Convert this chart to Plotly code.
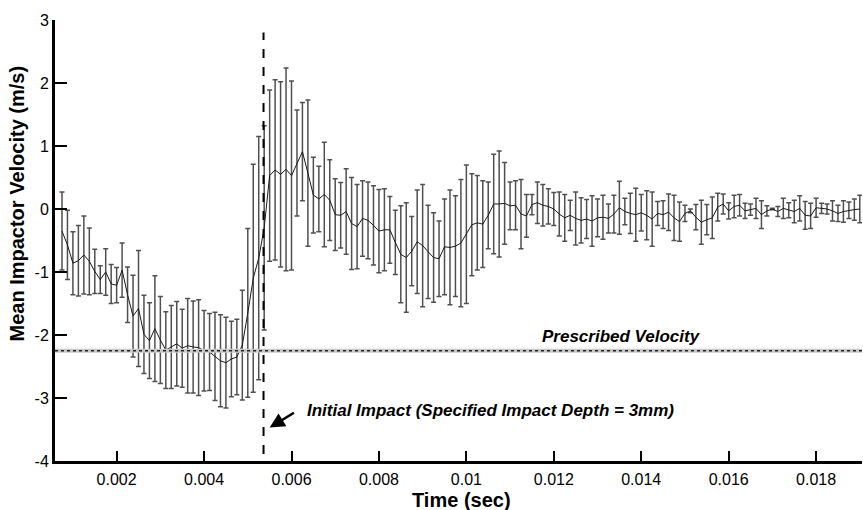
import plotly.graph_objects as go

# ---- data ----
T0 = 0.00075
DT = 0.000125
mean_velocity = [
    -0.35, -0.57, -0.86, -0.82, -0.73, -0.83, -0.99, -1.12, -1.00, -1.19,
    -1.21, -0.97, -1.36, -1.70, -1.58, -1.99, -2.09, -1.90, -2.08, -2.24,
    -2.19, -2.14, -2.21, -2.17, -2.19, -2.20, -2.25, -2.27, -2.34, -2.41,
    -2.44, -2.38, -2.35, -2.16, -1.65, -1.10, -0.78, -0.30, 0.53, 0.62,
    0.55, 0.63, 0.53, 0.73, 0.91, 0.57, 0.22, 0.16, 0.23, 0.14,
    -0.09, -0.10, -0.04, -0.23, -0.28, -0.15, -0.18, -0.26, -0.35, -0.33,
    -0.33, -0.53, -0.72, -0.77, -0.67, -0.52, -0.58, -0.68, -0.77, -0.79,
    -0.60, -0.61, -0.59, -0.54, -0.40, -0.25, -0.22, -0.24, -0.10, 0.08,
    0.08, 0.09, 0.05, 0.06, -0.08, -0.11, 0.07, 0.10, 0.06, 0.04,
    0.00, -0.08, -0.14, -0.10, -0.15, -0.18, -0.16, -0.19, -0.14, -0.13,
    -0.15, -0.08, 0.02, -0.04, -0.07, -0.09, -0.06, -0.10, -0.16, -0.07,
    -0.09, -0.05, -0.14, -0.20, -0.07, -0.03, -0.13, -0.21, -0.17, -0.14,
    0.03, 0.08, -0.03, 0.04, 0.06, -0.03, -0.01, 0.01, -0.09, -0.03,
    0.00, -0.04, 0.01, -0.02, -0.04, 0.01, -0.10, -0.11, 0.02, 0.01,
    0.00, -0.03, -0.07, -0.04, -0.02, -0.01, 0.00,
]
std_velocity = [
    0.62, 0.55, 0.50, 0.56, 0.62, 0.53, 0.35, 0.22, 0.37, 0.31,
    0.28, 0.43, 0.44, 0.65, 0.92, 0.62, 0.60, 0.84, 0.69, 0.61,
    0.66, 0.67, 0.62, 0.75, 0.73, 0.76, 0.64, 0.61, 0.70, 0.73,
    0.72, 0.60, 0.60, 0.87, 1.34, 1.81, 1.93, 1.62, 1.36, 1.43,
    1.47, 1.61, 1.50, 0.84, 0.78, 1.16, 0.60, 0.52, 0.83, 0.64,
    0.57, 0.52, 0.68, 0.73, 0.67, 0.60, 0.61, 0.63, 0.66, 0.65,
    0.53, 0.51, 0.77, 0.87, 0.55, 0.82, 0.97, 0.74, 0.71, 0.60,
    0.76, 0.91, 0.80, 1.01, 1.10, 0.81, 0.75, 0.69, 0.53, 0.79,
    0.84, 0.65, 0.38, 0.39, 0.55, 0.34, 0.16, 0.33, 0.33, 0.28,
    0.26, 0.35, 0.37, 0.24, 0.42, 0.36, 0.31, 0.40, 0.30, 0.35,
    0.23, 0.30, 0.42, 0.21, 0.32, 0.42, 0.29, 0.39, 0.43, 0.19,
    0.22, 0.29, 0.36, 0.31, 0.13, 0.03, 0.20, 0.35, 0.24, 0.33,
    0.22, 0.16, 0.13, 0.18, 0.17, 0.12, 0.09, 0.16, 0.22, 0.08,
    0.01, 0.08, 0.16, 0.12, 0.18, 0.20, 0.22, 0.20, 0.15, 0.08,
    0.08, 0.16, 0.13, 0.17, 0.13, 0.17, 0.22,
]
time_sec = [round(T0 + i * DT, 6) for i in range(len(mean_velocity))]

x_tick_vals = [0.002, 0.004, 0.006, 0.008, 0.01, 0.012, 0.014, 0.016, 0.018]
x_tick_text = ["0.002", "0.004", "0.006", "0.008", "0.01", "0.012", "0.014", "0.016", "0.018"]
y_tick_vals = [-4, -3, -2, -1, 0, 1, 2, 3]
y_tick_text = ["-4", "-3", "-2", "-1", "0", "1", "2", "3"]

prescribed_velocity = -2.25
impact_time = 0.00536

FONT = "Arial, Liberation Sans, sans-serif"

fig = go.Figure()
fig.add_trace(go.Scatter(
    x=time_sec, y=mean_velocity, mode="lines",
    line=dict(color="#1a1a1a", width=1),
    error_y=dict(type="data", array=std_velocity, visible=True,
                 color="#505050", thickness=1.5, width=2.5),
    showlegend=False, hoverinfo="skip",
))

# prescribed velocity line (grey band + dotted line)
fig.add_shape(type="line", xref="paper", yref="y", x0=0, x1=1,
              y0=prescribed_velocity, y1=prescribed_velocity,
              line=dict(color="#c8c8c8", width=4), layer="above")
fig.add_shape(type="line", xref="paper", yref="y", x0=0, x1=1,
              y0=prescribed_velocity, y1=prescribed_velocity,
              line=dict(color="#222222", width=1.5, dash="dot"), layer="above")

# initial impact dashed vertical line
fig.add_shape(type="line", xref="x", yref="y", x0=impact_time, x1=impact_time,
              y0=-3.89, y1=2.8,
              line=dict(color="black", width=2, dash="dash"), layer="above")

fig.add_annotation(x=0.00550, y=-3.47, ax=0.00609, ay=-3.22,
                   xref="x", yref="y", axref="x", ayref="y",
                   text="", showarrow=True, arrowhead=2, arrowsize=1.2,
                   arrowwidth=2.5, arrowcolor="black")
fig.add_annotation(x=0.00631, y=-3.195, xref="x", yref="y", xanchor="left",
                   yanchor="middle", showarrow=False,
                   text="<b><i>Initial Impact (Specified Impact Depth = 3mm)</i></b>",
                   font=dict(family=FONT, size=17, color="black"))
fig.add_annotation(x=0.01355, y=-2.02, xref="x", yref="y", xanchor="center",
                   yanchor="middle", showarrow=False,
                   text="<b><i>Prescribed Velocity</i></b>",
                   font=dict(family=FONT, size=17, color="black"))

# axis titles as annotations for exact placement
fig.add_annotation(x=-0.047, y=0.584, xref="paper", yref="paper",
                   xanchor="center", yanchor="middle",
                   text="<b>Mean Impactor Velocity (m/s)</b>", textangle=-90,
                   showarrow=False, font=dict(family=FONT, size=20, color="black"))
fig.add_annotation(x=0.504, y=-0.088, xref="paper", yref="paper",
                   xanchor="center", yanchor="middle",
                   text="<b>Time (sec)</b>",
                   showarrow=False, font=dict(family=FONT, size=20, color="black"))

fig.update_layout(
    width=863, height=510,
    margin=dict(l=55, r=1, t=20, b=49),
    paper_bgcolor="white", plot_bgcolor="white",
    font=dict(family=FONT, size=16, color="black"),
    xaxis=dict(range=[0.00059, 0.01905], showgrid=False, zeroline=False,
               showline=True, linewidth=3, linecolor="black",
               ticks="inside", ticklen=10, tickwidth=2, tickcolor="black",
               tickvals=x_tick_vals, ticktext=x_tick_text,
               tickfont=dict(family=FONT, size=16), ticklabelstandoff=2),
    yaxis=dict(range=[-4, 3], showgrid=False, zeroline=False,
               showline=True, linewidth=3, linecolor="black",
               ticks="inside", ticklen=12, tickwidth=2, tickcolor="black",
               tickvals=y_tick_vals, ticktext=y_tick_text,
               tickfont=dict(family=FONT, size=16)),
)

fig.write_html("out.html", config={"displayModeBar": False},
               post_script="document.body.style.margin='0';document.body.style.overflow='hidden';")
